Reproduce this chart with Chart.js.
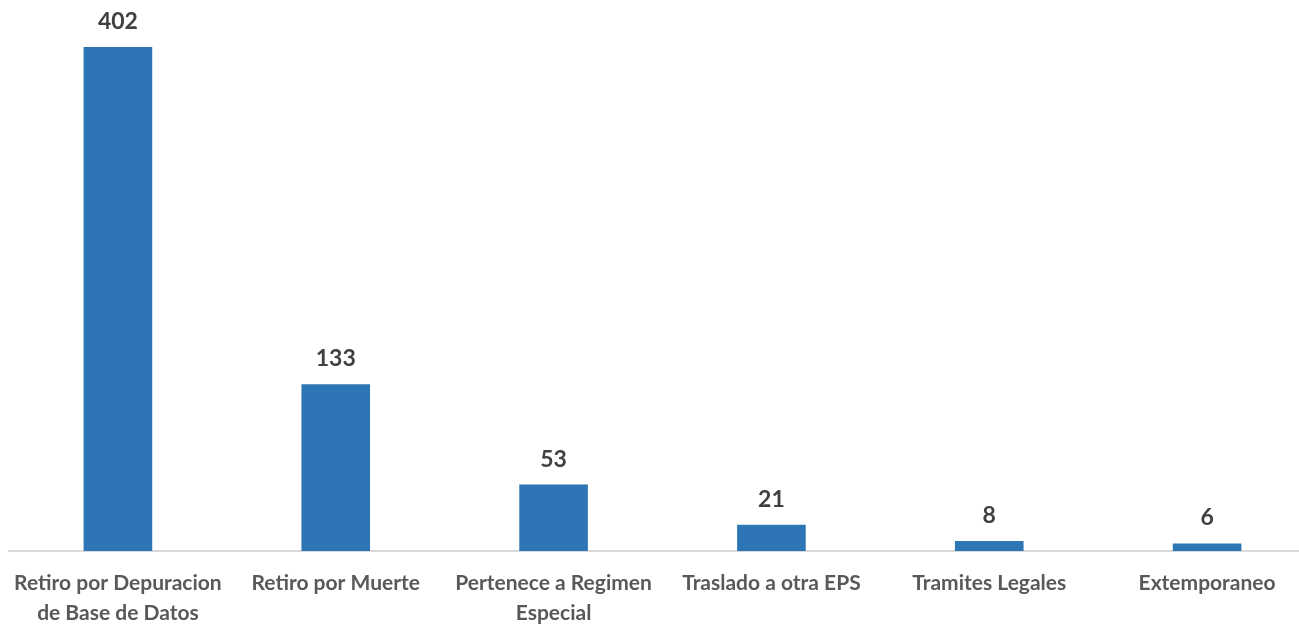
<!DOCTYPE html>
<html lang="es">
  <head>
    <meta charset="UTF-8" />
    <title>Retiros</title>
    <script src="https://cdn.jsdelivr.net/npm/chart.js"></script>
    <style>
      html, body { margin: 0; padding: 0; background: #fff; overflow: hidden; }
      #caja { width: 1316px; height: 628px; }
    </style>
  </head>
  <body>
    <div id="caja">
      <canvas id="grafico1"></canvas>
    </div>
    <script>
      const categorias = [
        ["Retiro por Depuracion", "de Base de Datos"],
        "Retiro por Muerte",
        ["Pertenece a Regimen", "Especial"],
        "Traslado a otra EPS",
        "Tramites Legales",
        "Extemporaneo",
      ]
      const valores = [402, 133, 53, 21, 8, 6]

      // etiquetas de valor encima de cada barra
      const etiquetas = {
        id: "etiquetas",
        afterDatasetsDraw(chart) {
          const c = chart.ctx
          const meta = chart.getDatasetMeta(0)
          c.save()
          c.font = "bold 23px Lato"
          c.fillStyle = "#404040"
          c.textAlign = "center"
          c.textBaseline = "alphabetic"
          meta.data.forEach((barra, i) => {
            c.fillText(valores[i], barra.x, barra.y - 18)
          })
          c.restore()
        },
      }

      const ctx = document.getElementById("grafico1")
      new Chart(ctx, {
        type: "bar",
        data: {
          labels: categorias,
          datasets: [
            {
              data: valores,
              backgroundColor: "#2E75B6",
              categoryPercentage: 1,
              barPercentage: 0.315,
            },
          ],
        },
        options: {
          responsive: true,
          maintainAspectRatio: false,
          animation: false,
          layout: { padding: { top: 12, left: 9, right: 0, bottom: 0 } },
          plugins: { legend: { display: false }, tooltip: { enabled: false } },
          scales: {
            x: {
              grid: { display: false, drawTicks: false },
              border: { color: "#d9d9d9", width: 2 },
              ticks: {
                color: "#595959",
                font: { family: "Lato", size: 21, weight: "bold", lineHeight: 1.43 },
                padding: 17,
                maxRotation: 0,
                autoSkip: false,
              },
              afterFit(scale) {
                scale.height = 77
                scale.paddingLeft = 0
                scale.paddingRight = 0
              },
            },
            y: {
              display: false,
              min: 0,
              max: 430,
            },
          },
        },
        plugins: [etiquetas],
      })
    </script>
  </body>
</html>
